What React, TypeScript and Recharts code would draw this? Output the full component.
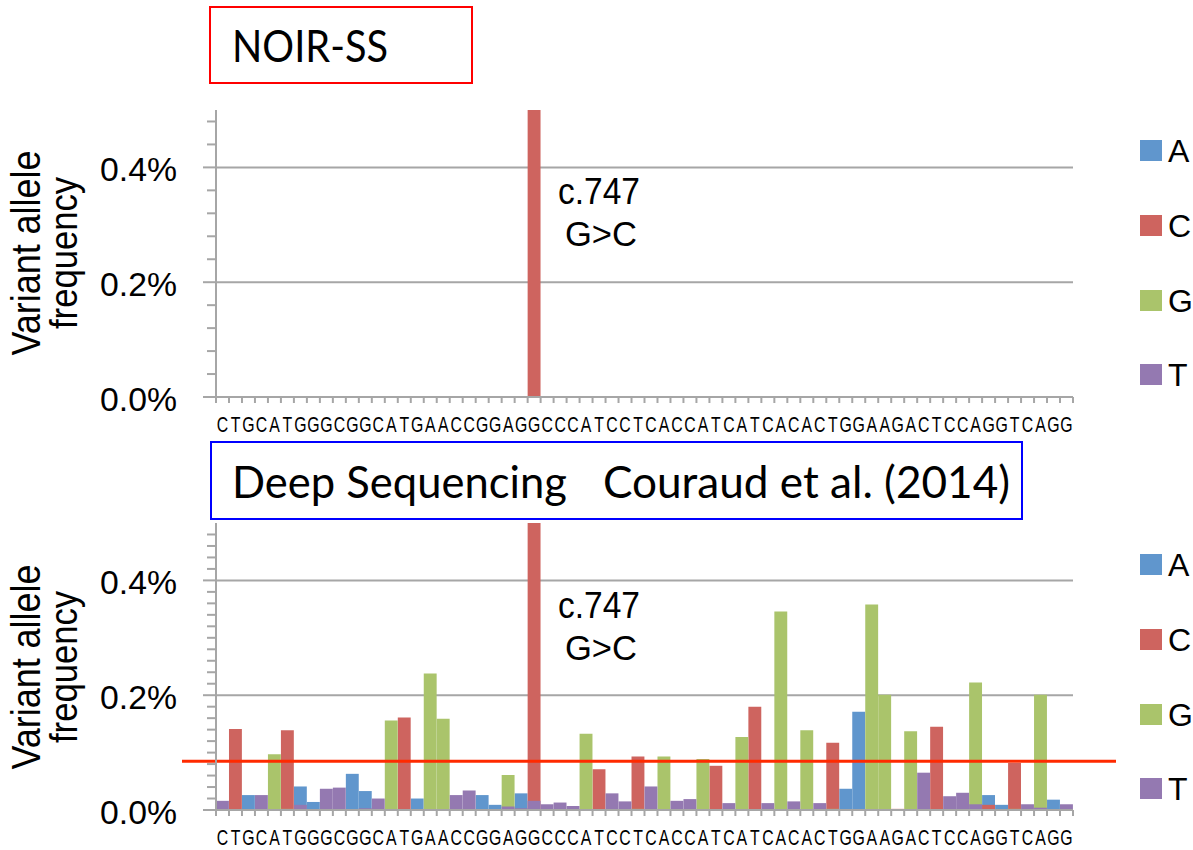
import React from 'react';
import { BarChart, Bar, XAxis, YAxis, CartesianGrid, ReferenceLine } from 'recharts';

// reference sequence around c.747 (one category per base)
const sequence = 'CTGCATGGGCGGCATGAACCGGAGGCCCATCCTCACCATCATCACACTGGAAGACTCCAGGTCAGG'.split('');
const bases = ['A', 'C', 'G', 'T'];
const baseColors: Record<string, string> = {
  A: '#6096CD',
  C: '#CE645F',
  G: '#AAC46B',
  T: '#9479B1',
};

// y ticks (values in %)
const noirTicks = [0, 0.04, 0.08, 0.12, 0.16, 0.2, 0.24, 0.28, 0.32, 0.36, 0.4, 0.44, 0.48];
const deepTicks = [
  0, 0.02, 0.04, 0.06, 0.08, 0.1, 0.12, 0.14, 0.16, 0.18, 0.2, 0.22, 0.24,
  0.26, 0.28, 0.3, 0.32, 0.34, 0.36, 0.38, 0.4, 0.42, 0.44, 0.46, 0.48,
];
const majorTicks = [0, 0.2, 0.4];
const gridValues = [0.2, 0.4];
const cutoffLine = 0.085;

// NOIR-SS: only the c.747 G>C variant
const noirA = [
  0, 0, 0, 0, 0, 0, 0, 0, 0, 0, 0,
  0, 0, 0, 0, 0, 0, 0, 0, 0, 0, 0,
  0, 0, 0, 0, 0, 0, 0, 0, 0, 0, 0,
  0, 0, 0, 0, 0, 0, 0, 0, 0, 0, 0,
  0, 0, 0, 0, 0, 0, 0, 0, 0, 0, 0,
  0, 0, 0, 0, 0, 0, 0, 0, 0, 0, 0,
];
const noirC = [
  0, 0, 0, 0, 0, 0, 0, 0, 0, 0, 0,
  0, 0, 0, 0, 0, 0, 0, 0, 0, 0, 0,
  0, 0, 0.5, 0, 0, 0, 0, 0, 0, 0, 0,
  0, 0, 0, 0, 0, 0, 0, 0, 0, 0, 0,
  0, 0, 0, 0, 0, 0, 0, 0, 0, 0, 0,
  0, 0, 0, 0, 0, 0, 0, 0, 0, 0, 0,
];
const noirG = [
  0, 0, 0, 0, 0, 0, 0, 0, 0, 0, 0,
  0, 0, 0, 0, 0, 0, 0, 0, 0, 0, 0,
  0, 0, 0, 0, 0, 0, 0, 0, 0, 0, 0,
  0, 0, 0, 0, 0, 0, 0, 0, 0, 0, 0,
  0, 0, 0, 0, 0, 0, 0, 0, 0, 0, 0,
  0, 0, 0, 0, 0, 0, 0, 0, 0, 0, 0,
];
const noirT = [
  0, 0, 0, 0, 0, 0, 0, 0, 0, 0, 0,
  0, 0, 0, 0, 0, 0, 0, 0, 0, 0, 0,
  0, 0, 0, 0, 0, 0, 0, 0, 0, 0, 0,
  0, 0, 0, 0, 0, 0, 0, 0, 0, 0, 0,
  0, 0, 0, 0, 0, 0, 0, 0, 0, 0, 0,
  0, 0, 0, 0, 0, 0, 0, 0, 0, 0, 0,
];

// Deep sequencing (Couraud et al. 2014)
const deepA = [
  0, 0, 0.026, 0, 0, 0, 0.041, 0.014, 0, 0, 0.063,
  0.033, 0, 0, 0, 0.02, 0, 0, 0, 0, 0.026, 0.009,
  0, 0.029, 0, 0, 0, 0, 0, 0, 0, 0, 0,
  0, 0, 0, 0, 0, 0, 0, 0, 0, 0, 0,
  0, 0, 0, 0, 0.037, 0.171, 0, 0, 0, 0, 0,
  0, 0, 0, 0, 0.026, 0.009, 0, 0, 0, 0.018, 0,
];
const deepC = [
  0, 0.141, 0, 0, 0, 0.139, 0, 0, 0, 0, 0,
  0, 0, 0, 0.161, 0, 0, 0, 0, 0, 0, 0,
  0, 0, 0.5, 0, 0, 0, 0, 0.071, 0, 0, 0.093,
  0, 0, 0, 0, 0, 0.077, 0, 0, 0.18, 0, 0,
  0, 0, 0, 0.117, 0, 0, 0, 0, 0.002, 0, 0,
  0.145, 0, 0, 0, 0.009, 0, 0.082, 0, 0, 0, 0,
];
const deepG = [
  0, 0, 0, 0, 0.097, 0.002, 0, 0, 0, 0, 0,
  0, 0, 0.156, 0, 0, 0.238, 0.159, 0, 0, 0, 0,
  0.061, 0, 0, 0, 0, 0, 0.133, 0, 0, 0, 0.002,
  0, 0.093, 0, 0, 0.089, 0, 0, 0.127, 0, 0, 0.346,
  0, 0.139, 0, 0.002, 0, 0, 0.358, 0.201, 0, 0.137, 0,
  0, 0, 0, 0.222, 0, 0, 0.002, 0, 0.201, 0, 0,
];
const deepT = [
  0.016, 0, 0, 0.026, 0, 0, 0.009, 0, 0.037, 0.039, 0,
  0.003, 0.02, 0, 0, 0, 0, 0, 0.026, 0.034, 0, 0,
  0.006, 0.003, 0.016, 0.01, 0.013, 0.007, 0, 0, 0.029, 0.015, 0,
  0.041, 0, 0.016, 0.019, 0, 0, 0.012, 0, 0, 0.012, 0,
  0.015, 0, 0.012, 0, 0, 0, 0, 0, 0, 0, 0.065,
  0, 0.024, 0.03, 0.01, 0, 0, 0, 0.01, 0.004, 0, 0.01,
];

const buildRows = (a: number[], c: number[], g: number[], t: number[]) =>
  sequence.map((base, i) => ({ pos: i, base, A: a[i], C: c[i], G: g[i], T: t[i] }));

const noirRows = buildRows(noirA, noirC, noirG, noirT);
const deepRows = buildRows(deepA, deepC, deepG, deepT);

const SANS = "'Liberation Sans', Arial, Helvetica, sans-serif";
const TITLE_FONT = "Lato, 'Open Sans', sans-serif";
const AXIS = '#A6A6A6';
const PLOT_LEFT = 216;
const PLOT_RIGHT = 1073;
const BAND = (PLOT_RIGHT - PLOT_LEFT) / sequence.length;
const BAR = 12.9;

function YTick(props: any) {
  const { y, payload } = props;
  const v = payload.value;
  const major = majorTicks.some((m) => Math.abs(m - v) < 1e-9);
  return (
    <g>
      <line x1={PLOT_LEFT - (major ? 13 : 9)} x2={PLOT_LEFT} y1={y} y2={y} stroke={AXIS} strokeWidth={2} />
      {major && (
        <text x={177} y={y + 14} textAnchor="end" fontSize={34} fontFamily={SANS} fill="#000"
          textLength={77} lengthAdjust="spacingAndGlyphs">
          {v.toFixed(1)}%
        </text>
      )}
    </g>
  );
}

function XTick(props: any) {
  const { x, y, payload, index } = props;
  const half = BAND / 2;
  return (
    <g>
      <line x1={x - half} x2={x - half} y1={y} y2={y + 6} stroke={AXIS} strokeWidth={2} />
      {index === sequence.length - 1 && (
        <line x1={x + half} x2={x + half} y1={y} y2={y + 6} stroke={AXIS} strokeWidth={2} />
      )}
      <text
        transform={`translate(${x},${y + 35}) scale(0.72,1)`}
        textAnchor="middle"
        fontSize={22}
        fontFamily={SANS}
        fill="#000"
      >
        {sequence[payload.value]}
      </text>
    </g>
  );
}

function Panel({ rows, ticks, height, showCutoff }: any) {
  return (
    <BarChart
      width={1193}
      height={height}
      data={rows}
      margin={{ top: 110, right: 1193 - PLOT_RIGHT, bottom: 0, left: 0 }}
      barGap={-BAR}
      barCategoryGap={0}
    >
      <CartesianGrid vertical={false} horizontalValues={gridValues} stroke={AXIS} strokeWidth={2} />
      <XAxis
        dataKey="pos"
        interval={0}
        height={height - 110 - 287}
        tickLine={false}
        tickSize={0}
        tickMargin={0}
        tick={<XTick />}
        axisLine={{ stroke: AXIS, strokeWidth: 2 }}
      />
      <YAxis
        type="number"
        domain={[0, 0.5]}
        allowDataOverflow
        ticks={ticks}
        interval={0}
        width={PLOT_LEFT}
        tickLine={false}
        tickSize={0}
        tick={<YTick />}
        axisLine={{ stroke: AXIS, strokeWidth: 2 }}
      />
      {bases.map((b) => (
        <Bar key={b} dataKey={b} fill={baseColors[b]} barSize={BAR} isAnimationActive={false} />
      ))}
      {showCutoff && (
        <ReferenceLine
          y={cutoffLine}
          ifOverflow="visible"
          shape={(p: any) => (
            <line x1={182} x2={1116} y1={p.y1} y2={p.y2} stroke="#FF2A00" strokeWidth={3} />
          )}
        />
      )}
    </BarChart>
  );
}

function Decorations({ offset }: { offset: number }) {
  const legendTops = [140, 215, 290, 364];
  return (
    <g>
      <text transform={`translate(40,${253 + offset}) rotate(-90)`} textAnchor="middle" fontSize={41}
        fontFamily={SANS} textLength={205} lengthAdjust="spacingAndGlyphs">
        Variant allele
      </text>
      <text transform={`translate(77,${253 + offset}) rotate(-90)`} textAnchor="middle" fontSize={39}
        fontFamily={SANS} textLength={152} lengthAdjust="spacingAndGlyphs">
        frequency
      </text>
      <text x={599} y={204 + offset} textAnchor="middle" fontSize={36} fontFamily={SANS}
        textLength={82} lengthAdjust="spacingAndGlyphs">c.747</text>
      <text x={601} y={246 + offset} textAnchor="middle" fontSize={35} fontFamily={SANS}
        textLength={72} lengthAdjust="spacingAndGlyphs">G&gt;C</text>
      {bases.map((b, i) => (
        <g key={b}>
          <rect x={1140} y={legendTops[i] + offset} width={22} height={21} fill={baseColors[b]} />
          <text x={1168} y={legendTops[i] + offset + 22} fontSize={32} fontFamily={SANS}>{b}</text>
        </g>
      ))}
    </g>
  );
}

export default function App() {
  return (
    <div style={{ position: 'relative', width: 1193, height: 850, overflow: 'hidden', background: '#fff' }}>
      <style>{'body{margin:0;}'}</style>
      <div style={{ position: 'absolute', left: 0, top: 0 }}>
        <Panel rows={noirRows} ticks={noirTicks} height={440} showCutoff={false} />
      </div>
      <div style={{ position: 'absolute', left: 0, top: 413 }}>
        <Panel rows={deepRows} ticks={deepTicks} height={437} showCutoff />
      </div>
      <svg width={1193} height={850} style={{ position: 'absolute', left: 0, top: 0, pointerEvents: 'none' }}>
        <rect x={210} y={7} width={262} height={76} fill="none" stroke="#FF0000" strokeWidth={2} />
        <text x={232} y={62} fontSize={44} fontFamily={TITLE_FONT} textLength={156} lengthAdjust="spacingAndGlyphs">
          NOIR-SS
        </text>
        <rect x={211} y={442} width={811} height={77} fill="#fff" stroke="#0000FF" strokeWidth={2} />
        <text x={232} y={498} fontSize={44} fontFamily={TITLE_FONT} textLength={335} lengthAdjust="spacingAndGlyphs">
          Deep Sequencing
        </text>
        <text x={603} y={498} fontSize={44} fontFamily={TITLE_FONT} textLength={407} lengthAdjust="spacingAndGlyphs">
          Couraud et al. (2014)
        </text>
        <Decorations offset={0} />
        <Decorations offset={414} />
      </svg>
    </div>
  );
}
